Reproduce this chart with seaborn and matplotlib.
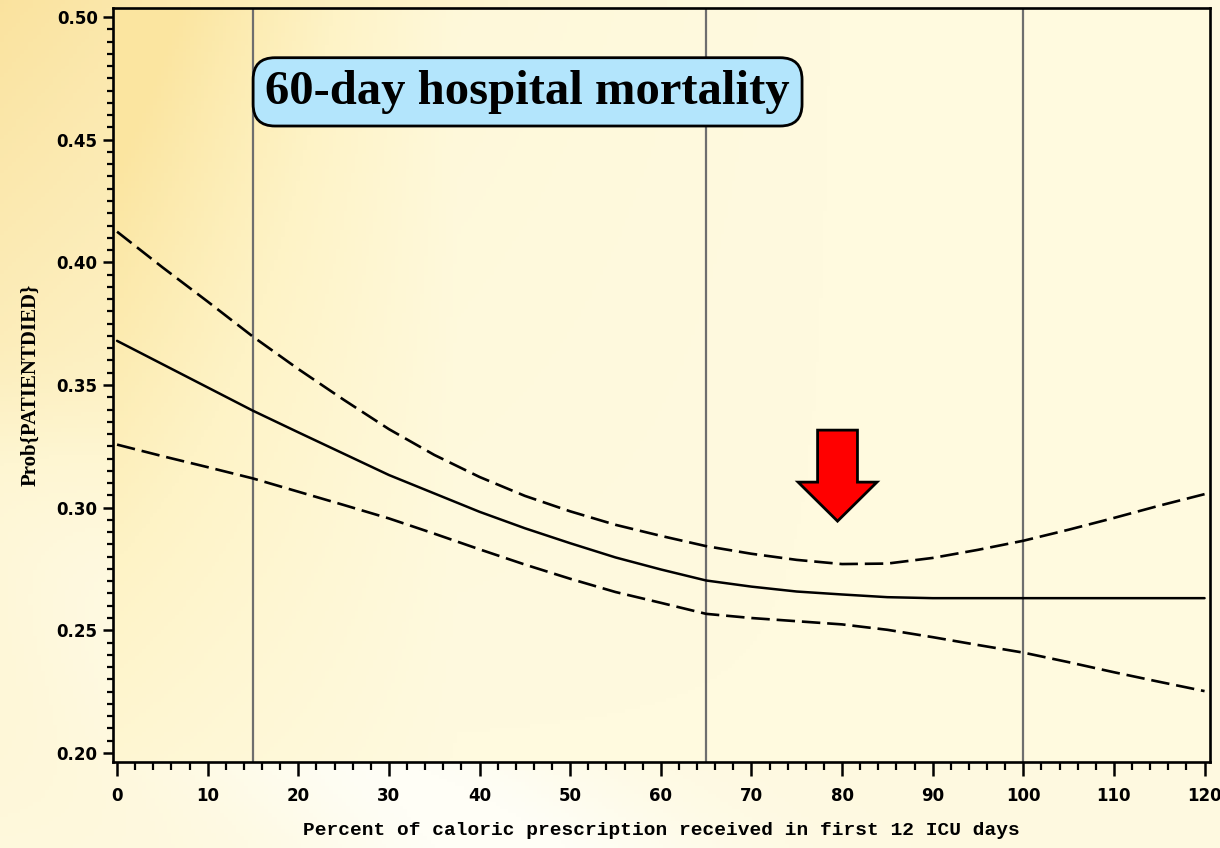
import numpy as np
import pandas as pd
import matplotlib
matplotlib.use("Agg")
import matplotlib.pyplot as plt
import matplotlib.patches as mpatches
from matplotlib.colors import LinearSegmentedColormap
import seaborn as sns

# ---- data ----
pct = [0, 5, 10, 15, 20, 25, 30, 35, 40, 45, 50, 55, 60, 65, 70, 75, 80, 85,
       90, 95, 100, 105, 110, 115, 120]
prob_est = [0.3680, 0.3585, 0.3490, 0.3395, 0.3307, 0.3220, 0.3133, 0.3058,
            0.2983, 0.2916, 0.2855, 0.2797, 0.2748, 0.2703, 0.2678, 0.2658,
            0.2646, 0.2635, 0.2631, 0.2631, 0.2631, 0.2631, 0.2631, 0.2631,
            0.2631]
prob_upper = [0.4125, 0.3980, 0.3840, 0.3697, 0.3565, 0.3440, 0.3320, 0.3215,
              0.3125, 0.3048, 0.2985, 0.2930, 0.2885, 0.2843, 0.2812, 0.2787,
              0.2770, 0.2772, 0.2795, 0.2828, 0.2865, 0.2910, 0.2958, 0.3008,
              0.3055]
prob_lower = [0.3257, 0.3210, 0.3165, 0.3119, 0.3065, 0.3011, 0.2956, 0.2894,
              0.2830, 0.2768, 0.2710, 0.2656, 0.2612, 0.2567, 0.2550, 0.2537,
              0.2524, 0.2502, 0.2472, 0.2440, 0.2409, 0.2370, 0.2329, 0.2290,
              0.2252]
ref_lines = [15, 65, 100]
xticks = list(range(0, 121, 10))
yticks = [0.20, 0.25, 0.30, 0.35, 0.40, 0.45, 0.50]
title_text = "60-day hospital mortality"
xlabel = "Percent of caloric prescription received in first 12 ICU days"
ylabel = "Prob{PATIENTDIED}"
arrow_x = 79.5

df = pd.DataFrame({"pct": pct, "est": prob_est, "upper": prob_upper, "lower": prob_lower})

sns.set_theme(style="white")
plt.rcParams["font.family"] = ["DejaVu Sans"]

fig = plt.figure(figsize=(12.2, 8.48), dpi=100)

# background gradient (figure), row 0 = top
bg = fig.add_axes([0, 0, 1, 1], zorder=-10)
gx, gt = np.meshgrid(np.linspace(0, 1, 300), np.linspace(0, 1, 220))
warm = np.clip(1 - gx * 1.6, 0, 1) * np.clip(1 - gt * 0.9, 0, 1)
streak = np.exp(-((gx - (gt - 0.55) * 0.9) ** 2) / 0.03) * np.clip((gt - 0.4) * 2.0, 0, 1)
val = np.clip(0.30 + 0.6 * warm - 0.35 * streak, 0, 1)
cmap_bg = LinearSegmentedColormap.from_list("bgc", ["#FFFEF6", "#FEF6D2", "#F9DE92"])
bg.imshow(val, cmap=cmap_bg, vmin=0, vmax=1, aspect="auto", origin="upper",
          extent=[0, 1, 0, 1])
bg.set_axis_off()

ax = fig.add_axes([0.0926, 0.1014, 0.8992, 0.8892])
ax.set_xlim(-0.45, 120.6)
ax.set_ylim(0.1963, 0.5037)

# axes interior gradient (origin lower: row 0 = bottom)
ix, iy = np.meshgrid(np.linspace(0, 1, 300), np.linspace(0, 1, 200))
ival = np.clip(1 - ix * 3.2, 0, 1) * (0.25 + 0.75 * iy) + 0.2 * np.clip(1 - ix * 1.5, 0, 1) * iy
cmap_in = LinearSegmentedColormap.from_list("inc", ["#FFFADF", "#FEF3C6", "#FBE5A0"])
ax.imshow(ival, cmap=cmap_in, vmin=0, vmax=1, aspect="auto", origin="lower",
          extent=[-0.45, 120.6, 0.1963, 0.5037], zorder=0)

for xv in ref_lines:
    ax.axvline(xv, color="#6e6e6e", lw=1.6, zorder=1)

sns.lineplot(data=df, x="pct", y="upper", ax=ax, color="black", lw=1.9, zorder=3)
sns.lineplot(data=df, x="pct", y="est", ax=ax, color="black", lw=1.8, zorder=3)
sns.lineplot(data=df, x="pct", y="lower", ax=ax, color="black", lw=1.9, zorder=3)
lines = ax.get_lines()
lines[-3].set_dashes((7, 2.6))
lines[-1].set_dashes((7, 2.6))

# red arrow
top_y, tip_y, base_y = 0.3316, 0.2945, 0.3104
arr = mpatches.FancyArrow(arrow_x, top_y, 0, tip_y - top_y, width=4.4,
                          head_width=8.7, head_length=base_y - tip_y,
                          length_includes_head=True, facecolor="#FF0000",
                          edgecolor="black", lw=2, zorder=5)
ax.add_patch(arr)

# title box
ax.text(45.3, 0.4695, title_text, ha="center", va="center", color="black",
        fontsize=35, fontweight="bold", family=["Liberation Serif"], zorder=6,
        bbox=dict(boxstyle="round,pad=0.25,rounding_size=0.45",
                  facecolor="#B3E5FC", edgecolor="black", lw=2))

ax.set_xticks(xticks)
ax.set_xticks(list(range(0, 121, 2)), minor=True)
ax.set_yticks(yticks)
ax.set_yticks(list(np.arange(0.20, 0.5001, 0.005)), minor=True)
ax.set_xticklabels([str(t) for t in xticks])
ax.set_yticklabels([f"{t:.2f}" for t in yticks])
ax.tick_params(axis="both", which="both", bottom=True, left=True, top=False, right=False)
ax.tick_params(axis="both", which="major", direction="out", length=7, width=1.8,
               color="black", labelsize=12, pad=4)
ax.tick_params(axis="both", which="minor", direction="out", length=4, width=1.6,
               color="black")
ax.tick_params(axis="x", which="major", length=10, pad=8)
ax.tick_params(axis="x", which="minor", length=6)
for lab in ax.get_xticklabels() + ax.get_yticklabels():
    lab.set_fontweight("bold")
    lab.set_color("black")

for s in ax.spines.values():
    s.set_visible(True)
    s.set_color("black")
    s.set_linewidth(1.9)

ax.set_xlabel(xlabel, fontsize=14, fontweight="bold", family=["Liberation Mono"],
              labelpad=12, color="black")
ax.set_ylabel(ylabel, fontsize=15, fontweight="bold", family=["Liberation Serif"],
              labelpad=12, color="black")
ax.grid(False)

fig.savefig("out.png", dpi=100)
